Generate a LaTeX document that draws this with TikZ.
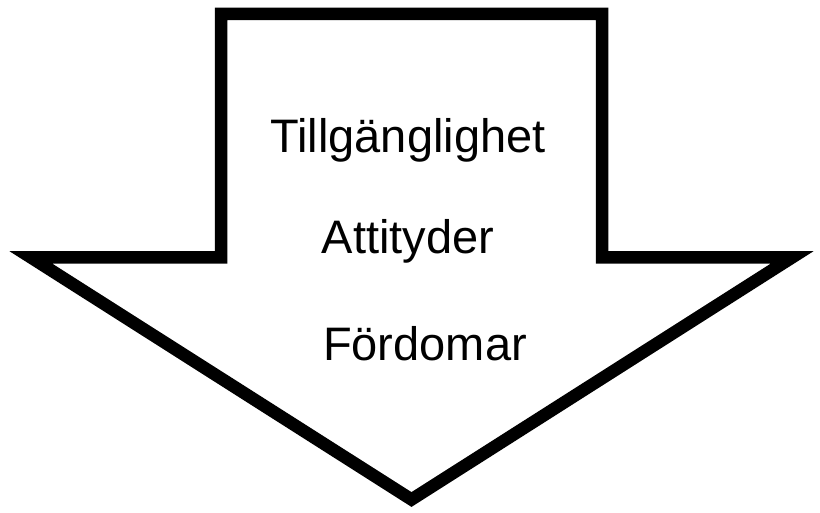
\documentclass[tikz,border=0pt]{standalone}
\usepackage{fontspec}
\setmainfont{Liberation Sans}
\begin{document}
\begin{tikzpicture}[x=1pt,y=-1pt,
  outline/.style={draw=black,line width=12.5pt,line join=miter,fill=white},
  label/.style={anchor=base,inner sep=0pt,font=\fontsize{47}{56}\selectfont}]
\useasboundingbox (0,0) rectangle (820,513);
\coordinate (stl) at (221,14);
\coordinate (str) at (602,14);
\coordinate (sbr) at (602,257.5);
\coordinate (wr) at (792,257.5);
\coordinate (tip) at (411.5,499.5);
\coordinate (wl) at (31,257.5);
\coordinate (sbl) at (221,257.5);
\draw[outline] (stl) -- (str) -- (sbr) -- (wr) -- (tip) -- (wl) -- (sbl) -- cycle;
\node[label] (t1) at (408,152.7) {Tillgänglighet};
\node[label] (t2) at (408,254) {Attityder};
\node[label] (t3) at (425,360) {Fördomar};
\end{tikzpicture}
\end{document}
